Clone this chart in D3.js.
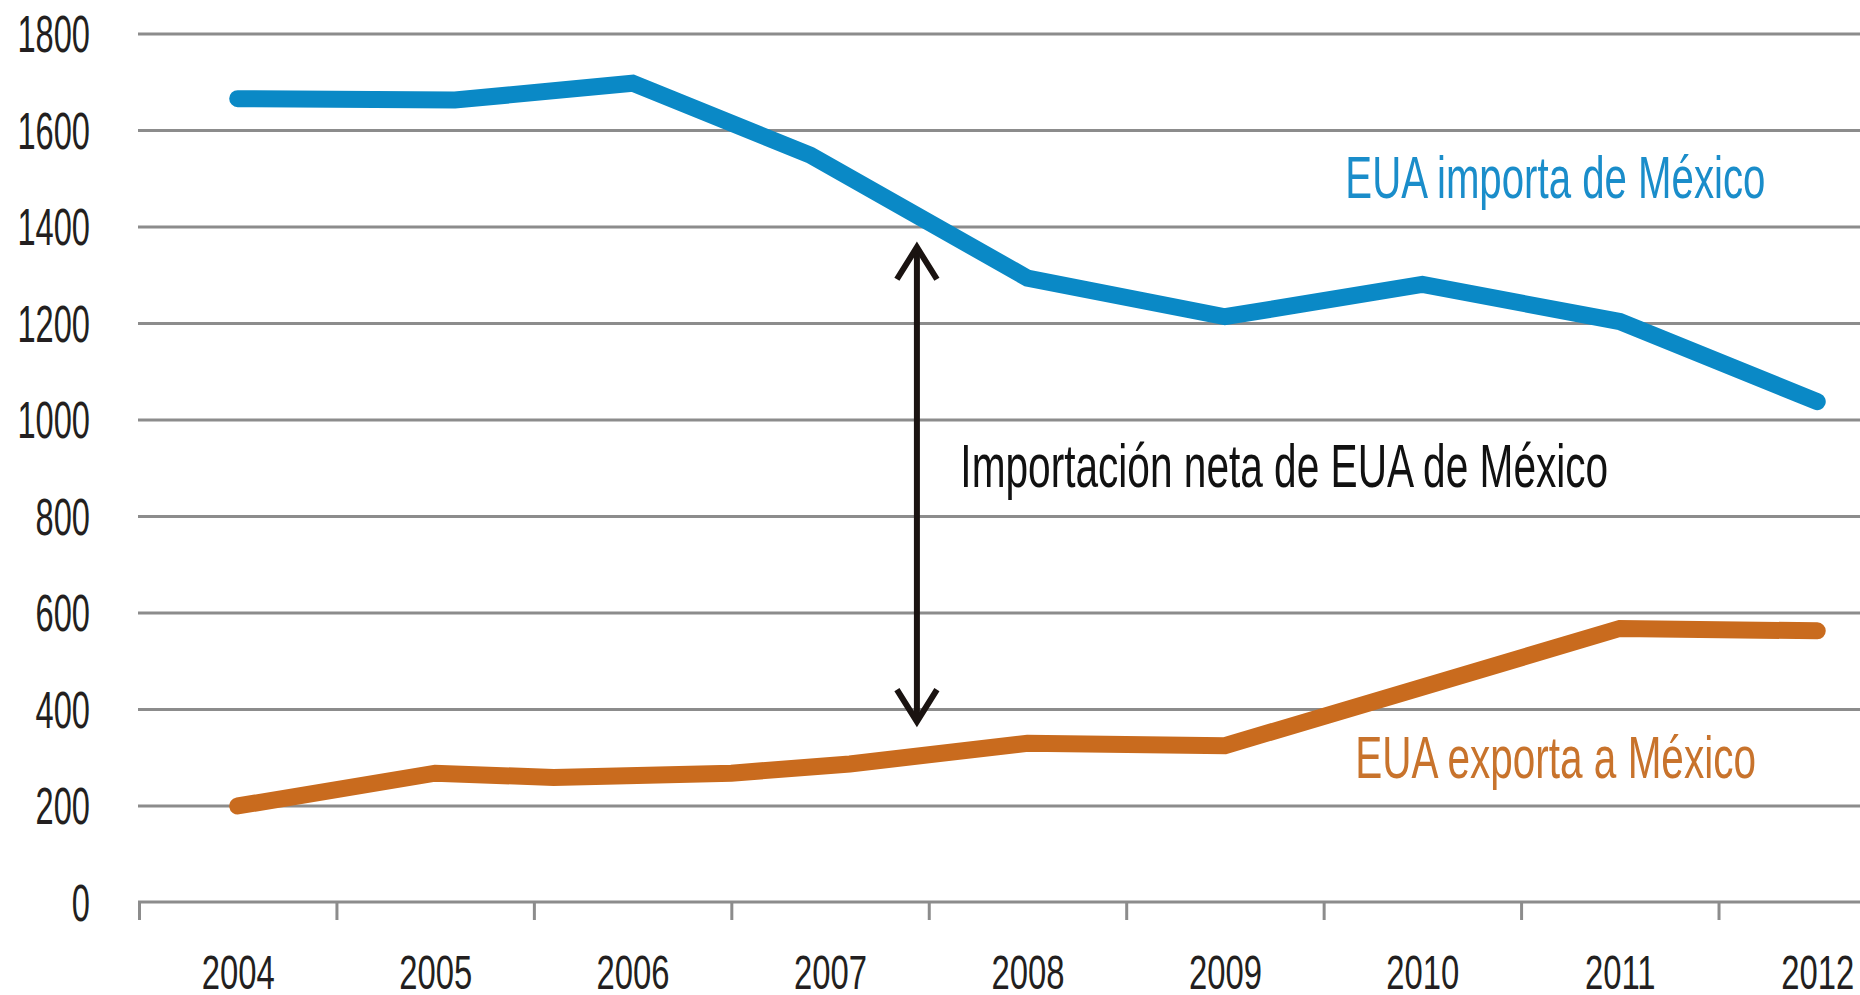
<!DOCTYPE html>
<html>
<head>
<meta charset="utf-8">
<script src="https://cdnjs.cloudflare.com/ajax/libs/d3/7.8.5/d3.min.js"></script>
<style>
	body { margin: 0; background: #fff; }
	svg { display: block; }
</style>
</head>
<body>
<div id="chart"></div>
<script>
// valores (x en años, algunos quiebres caen entre años)
let importYears  = [2004, 2005.1, 2006, 2006.9, 2008, 2009, 2010, 2011, 2012];
let importValues = [1665, 1662, 1697, 1548, 1293, 1213, 1280, 1203, 1037];

let exportYears  = [2004, 2005, 2005.6, 2006.5, 2007.1, 2008, 2009, 2011, 2012];
let exportValues = [199, 267, 258, 267, 286, 329, 324, 567, 562];

let yearLabels = [2004, 2005, 2006, 2007, 2008, 2009, 2010, 2011, 2012];
let yTicks = [0, 200, 400, 600, 800, 1000, 1200, 1400, 1600, 1800];

let importLabel = "EUA importa de México";
let exportLabel = "EUA exporta a México";
let netLabel = "Importación neta de EUA de México";

// flecha doble: año y extremos en unidades del eje
let arrowYear = 2007.44,
	arrowTop = 1357,
	arrowBottom = 374;

var w = 1860,
	h = 995,
	padLeft = 139,
	padTop = 33.5,
	base = 902;

var font = '"Liberation Sans", Arial, sans-serif';
var gridColor = "#8c8c8c";
var blue = "#0a89c6",
	orange = "#c96b1e";

// el tipo del original es muy condensado
function condense(sel, k){
	sel.each(function(){
		let l = this.getComputedTextLength();
		d3.select(this)
		  .attr("textLength", l * k)
		  .attr("lengthAdjust", "spacingAndGlyphs");
	});
}

var svg = d3.select("#chart")
			.append("svg")
			.attr("width", w)
			.attr("height", h);

// el eje sigue mas alla del borde derecho (2012 queda cortado)
let x = d3.scaleLinear()
		  .domain([2003.5, 2012.5])
		  .range([padLeft, padLeft + 9 * 197.44]);

let y = d3.scaleLinear()
		  .domain([0, 1800])
		  .range([base, padTop]);

// lineas de cuadricula
let grid = d3.axisLeft(y)
			 .tickValues(yTicks.filter(d => d > 0))
			 .tickSize(-(w - padLeft + 1))
			 .tickFormat("");

svg.append("g")
   .attr("transform", "translate(" + (padLeft - 1) + ",0)")
   .call(grid)
   .call(g => g.select(".domain").remove())
   .selectAll("line")
   .attr("stroke", gridColor)
   .attr("stroke-width", 3);

// etiquetas eje y
let yAxis = d3.axisLeft(y)
			  .tickValues(yTicks)
			  .tickSize(0)
			  .tickPadding(0)
			  .tickFormat(d3.format("d"));

let yg = svg.append("g")
			.attr("transform", "translate(90,0)")
			.call(yAxis)
			.attr("font-family", font)
			.attr("font-size", 51);
yg.select(".domain").remove();
yg.selectAll("text")
  .attr("fill", "#231f20")
  .attr("dy", "0.36em")
  .call(condense, 0.64);

// eje x: linea base y marcas entre años
let xTicks = d3.axisBottom(x)
			   .tickValues(yearLabels.map(d => d - 0.5))
			   .tickSize(18)
			   .tickSizeOuter(0)
			   .tickFormat("");

let xg = svg.append("g")
			.attr("transform", "translate(0," + base + ")")
			.call(xTicks);
xg.select(".domain")
  .attr("stroke", gridColor)
  .attr("stroke-width", 3)
  .attr("d", "M" + (padLeft - 1) + ",0H" + w);
xg.selectAll("line")
  .attr("stroke", gridColor)
  .attr("stroke-width", 3);

let xLabels = d3.axisBottom(x)
				.tickValues(yearLabels)
				.tickSize(0)
				.tickPadding(0)
				.tickFormat(d3.format("d"));

let xl = svg.append("g")
			.attr("transform", "translate(0,989)")
			.call(xLabels)
			.attr("font-family", font)
			.attr("font-size", 49);
xl.select(".domain").remove();
xl.selectAll("text")
  .attr("fill", "#231f20")
  .attr("y", 0)
  .attr("dy", 0)
  .call(condense, 0.67);

// series
let line = d3.line()
			 .x(d => x(d[0]))
			 .y(d => y(d[1]));

svg.append("path")
   .datum(d3.zip(importYears, importValues))
   .attr("d", line)
   .attr("fill", "none")
   .attr("stroke", blue)
   .attr("stroke-width", 17)
   .attr("stroke-linecap", "round")
   .attr("stroke-linejoin", "miter");

svg.append("path")
   .datum(d3.zip(exportYears, exportValues))
   .attr("d", line)
   .attr("fill", "none")
   .attr("stroke", orange)
   .attr("stroke-width", 17)
   .attr("stroke-linecap", "round")
   .attr("stroke-linejoin", "miter");

// flecha doble
let ax = x(arrowYear),
	at = y(arrowTop),
	ab = y(arrowBottom);

let arrow = svg.append("g")
			   .attr("fill", "none")
			   .attr("stroke", "#1a1311")
			   .attr("stroke-width", 6)
			   .attr("stroke-linejoin", "miter");

arrow.append("line")
	 .attr("x1", ax).attr("y1", at)
	 .attr("x2", ax).attr("y2", ab);

arrow.append("path")
	 .attr("d", "M" + (ax - 20) + "," + (at + 32) + "L" + ax + "," + at + "L" + (ax + 20) + "," + (at + 32));

arrow.append("path")
	 .attr("d", "M" + (ax - 20) + "," + (ab - 32) + "L" + ax + "," + ab + "L" + (ax + 20) + "," + (ab - 32));

// textos
svg.append("text")
   .attr("x", x(2009.61))
   .attr("y", y(1459))
   .attr("font-family", font)
   .attr("font-size", 60)
   .attr("fill", "#1a8dca")
   .text(importLabel)
   .call(condense, 0.67);

svg.append("text")
   .attr("x", x(2009.66))
   .attr("y", y(257))
   .attr("font-family", font)
   .attr("font-size", 60)
   .attr("fill", "#c8732c")
   .text(exportLabel)
   .call(condense, 0.675);

svg.append("text")
   .attr("x", x(2007.66))
   .attr("y", y(860))
   .attr("font-family", font)
   .attr("font-size", 62)
   .attr("fill", "#111")
   .text(netLabel)
   .call(condense, 0.655);
</script>
</body>
</html>
